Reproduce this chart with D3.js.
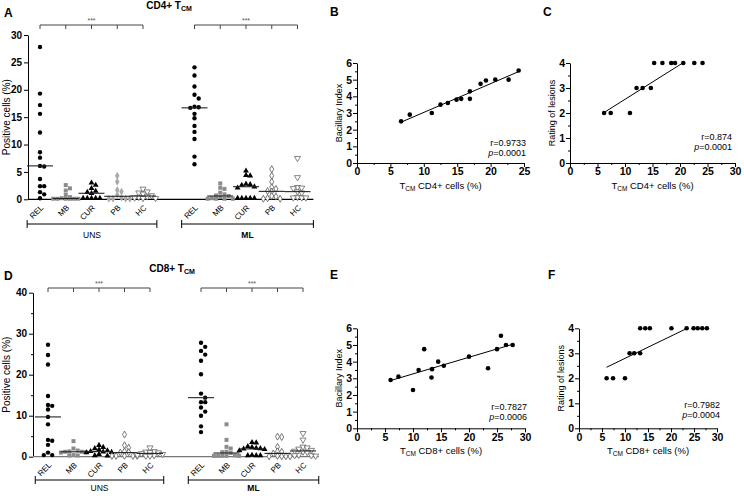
<!DOCTYPE html>
<html><head><meta charset="utf-8">
<script src="https://cdn.jsdelivr.net/npm/d3@7"></script>
<style>
body{margin:0;background:#fff;}
svg text{font-family:"Liberation Sans",Arial,Helvetica,sans-serif;}
</style></head><body>
<svg id="c" width="744" height="496"></svg>
<script>
// ---------- DATA ----------
const categories = ["REL","MB","CUR","PB","HC"];
const groups = ["UNS","ML"];

// CD4+ TCM, positive cells (%)
const cd4_UNS_REL = [27.8,19.3,17.2,15.6,12.2,8.6,7.6,6.1,6.0,3.7,2.4,2.4,1.3,0.9,0.2];
const cd4_UNS_MB  = [2.6,2.0,1.6,0.8,0.4,0.2,0.1,0.1,0.1,0.1,0.1,0.1];
const cd4_UNS_CUR = [3.0,2.6,2.0,1.5,1.3,1.1,0.2,0.2,0.2,0.2,0.2];
const cd4_UNS_PB  = [4.3,3.2,1.7,1.4,0.8,0.3,0.1,0.1,0.1,0.1];
const cd4_UNS_HC  = [1.9,1.4,1.2,1.0,0.7,0.5,0.4,0.3,0.2,0.2];
const cd4_ML_REL  = [24.1,22.6,20.6,19.1,18.4,16.9,16.8,16.7,15.6,14.8,13.4,12.3,11.0,7.8,6.4];
const cd4_ML_MB   = [2.9,2.1,1.9,1.2,0.9,0.7,0.6,0.4,0.2,0.1,0.1,0.1,0.1];
const cd4_ML_CUR  = [5.2,4.4,4.3,2.8,2.7,2.6,2.3,2.1,0.2,0.2,0.2,0.2,0.2];
const cd4_ML_PB   = [5.5,4.3,3.2,2.2,1.9,1.5,1.4,0.6,0.5,0.2,0.1,0.1];
const cd4_ML_HC   = [7.5,4.0,2.2,2.1,2.0,1.4,1.2,0.4,0.3,0.3,0.3];

// CD8+ TCM, positive cells (%)
const cd8_UNS_REL = [27.3,24.8,22.5,14.8,12.6,12.4,11.5,9.7,7.9,4.1,3.9,2.9,1.0,0.4,0.4];
const cd8_UNS_MB  = [3.8,2.0,1.5,1.3,1.2,1.2,1.1,1.0,0.4,0.3,0.3];
const cd8_UNS_CUR = [2.8,2.3,2.0,1.7,1.5,1.3,1.2,1.1,1.0,0.6,0.3,0.2];
const cd8_UNS_PB  = [5.4,2.8,2.2,1.3,1.1,1.0,0.2,0.2,0.2,0.2,0.2];
const cd8_UNS_HC  = [2.2,1.3,1.2,1.1,1.0,0.8,0.6,0.4,0.3,0.2,0.2];
const cd8_ML_REL  = [27.8,26.8,25.8,24.9,23.4,20.1,15.4,14.4,13.3,13.3,12.0,11.0,10.0,7.4,6.0];
const cd8_ML_MB   = [7.9,4.1,2.4,2.0,1.2,1.1,0.9,0.3,0.2,0.2,0.2,0.2,0.2];
const cd8_ML_CUR  = [3.5,3.4,2.5,2.3,2.1,2.0,1.9,1.8,1.5,0.4,0.3,0.3,0.3];
const cd8_ML_PB   = [4.9,4.8,2.4,1.3,1.2,0.8,0.2,0.1,0.1,0.1,0.1];
const cd8_ML_HC   = [5.7,4.1,2.4,2.2,1.9,1.6,1.4,1.2,1.1,0.4,0.3,0.3,0.2];

const yTicksA = [0,5,10,15,20,25,30];
const yTicksD = [0,10,20,30,40];

// Correlations (ML patients)
const bX = [6.6,7.9,11.2,12.5,13.6,14.9,15.6,16.9,16.9,18.5,19.3,20.7,22.7,24.2];
const bY = [2.5,2.9,3.0,3.5,3.6,3.8,3.85,4.3,3.85,4.75,4.95,5.0,5.0,5.55];
const cX = [6.2,7.4,10.9,12.1,13.2,14.7,15.3,16.8,18.4,19.1,20.6,22.6,24.1];
const cY = [2,2,2,3,3,3,4,4,4,4,4,4,4];
const eX = [6.0,7.4,10.0,11.0,12.0,13.3,13.4,14.5,15.5,20.0,23.4,25.0,25.7,26.6,27.8];
const eY = [2.9,3.1,2.3,3.5,4.75,3.05,3.55,4.0,3.75,4.3,3.6,4.75,5.55,5.0,5.0];
const fX = [6.0,7.4,10.0,11.0,12.0,13.3,13.3,14.4,15.4,20.1,23.4,24.9,25.8,26.8,27.8];
const fY = [2,2,2,3,3,3,4,4,4,4,4,4,4,4,4];
const statR = ["r=0.9733","r=0.874","r=0.7827","r=0.7982"];
const statP = ["=0.0001","=0.0001","=0.0006","=0.0004"];
const biTicks = [0,1,2,3,4,5,6];
const lesTicks = [0,1,2,3,4];
const x25Ticks = [0,5,10,15,20,25];
const x30Ticks = [0,5,10,15,20,25,30];

// ---------- DRAW ----------
const svg = d3.select('#c');

const styles = {
  REL:{type:d3.symbolCircle, size:15, fill:'#000', stroke:'none'},
  MB:{type:d3.symbolSquare, size:16, fill:'#8c8c8c', stroke:'none'},
  CUR:{type:d3.symbolTriangle, size:15, fill:'#000', stroke:'none'},
  PB:{type:d3.symbolDiamond, size:14, fill:'#fff', stroke:'#555'},
  PBlight:{type:d3.symbolDiamond, size:18, fill:'#aaa', stroke:'none'},
  HC:{type:d3.symbolTriangle, size:16, fill:'#fff', stroke:'#666', rot:180}
};

// column-scatter spreading: nearest free horizontal slot, capped width
function swarm(vals, y, step, minD, maxK){
  const pts = vals.map(v=>({v, py:y(v), dx:0}));
  const order = pts.slice().sort((a,b)=>a.py-b.py);
  const placed = [];
  for(const p of order){
    let best = null, bestD = -1;
    for(let k=0;k<=2*maxK;k++){
      const off = k===0?0:(k%2?1:-1)*Math.ceil(k/2)*step;
      const d = placed.length? d3.min(placed,q=>Math.hypot(q.dx-off,q.py-p.py)) : Infinity;
      if(d>=minD){best=off;break;}
      if(d>bestD+0.01){bestD=d;best=off;}
    }
    p.dx = best;
    placed.push(p);
  }
  return pts;
}

function styleAxis(ax, fs){
  ax.select('.domain').attr('stroke','#000').attr('stroke-width',1);
  ax.selectAll('.tick line').attr('stroke','#000');
  ax.selectAll('.tick text').attr('font-size',fs).attr('font-weight','bold').attr('fill','#000')
    .attr('font-family','"Liberation Sans",Arial,sans-serif');
}

function columnPanel(cfg){
  const g = svg.append('g');
  const slots = [];
  groups.forEach((gr,gi)=>{ categories.forEach(c=>slots.push(gr+'|'+c)); if(gi===0) slots.push('gap'); });
  const x = d3.scalePoint().domain(slots).range([cfg.xFirst,cfg.xLast]);
  const step = x.step();
  const y = d3.scaleLinear().domain([0,cfg.yMax]).range([cfg.yBase,cfg.yTop]);

  const ya = g.append('g').attr('transform',`translate(${cfg.axisX},0)`)
    .call(d3.axisLeft(y).tickValues(cfg.yTicks).tickSize(4).tickSizeOuter(0).tickPadding(2).tickFormat(d3.format('d')));
  styleAxis(ya, 10);
  if(cfg.yMinor){
    const ym = g.append('g').attr('transform',`translate(${cfg.axisX},0)`)
      .call(d3.axisLeft(y).tickValues(cfg.yMinor).tickSize(2).tickFormat(''));
    ym.select('.domain').remove(); ym.selectAll('line').attr('stroke','#000');
  }
  const xEndLine = x('ML|HC')+step/2+3;
  g.append('line').attr('x1',cfg.axisX).attr('x2',xEndLine).attr('y1',cfg.yBase).attr('y2',cfg.yBase)
    .attr('stroke',cfg.baseColor).attr('stroke-width',1.2);

  g.append('text').attr('transform',`translate(${cfg.ylabelX},${(cfg.yBase+cfg.yTop)/2}) rotate(-90)`)
    .attr('text-anchor','middle').attr('font-size',10).text('Positive cells (%)');

  const t = g.append('text').attr('x',cfg.titleX).attr('y',cfg.titleY).attr('text-anchor','middle')
    .attr('font-size',10).attr('font-weight','bold');
  t.append('tspan').text(cfg.titleMain+' T');
  t.append('tspan').attr('font-size',7).attr('dy',2).text('CM');
  g.append('text').attr('x',cfg.letterX).attr('y',cfg.letterY).attr('font-size',12).attr('font-weight','bold').text(cfg.letter);

  groups.forEach((gr,gi)=>{
    const xs = categories.map(c=>x(gr+'|'+c));
    g.append('line').attr('x1',xs[0]).attr('x2',xs[4]).attr('y1',cfg.sigY).attr('y2',cfg.sigY).attr('stroke','#444');
    xs.forEach(xx=>g.append('line').attr('x1',xx).attr('x2',xx).attr('y1',cfg.sigY).attr('y2',cfg.sigY+4).attr('stroke','#444'));
    g.append('text').attr('x',(xs[0]+xs[4])/2).attr('y',cfg.sigY-2).attr('text-anchor','middle')
      .attr('font-size',7).attr('fill','#555').text('***');
    const gx0 = xs[0]-step/2, gx1 = xs[4]+step/2+(gi?3:1);
    g.append('line').attr('x1',gx0).attr('x2',gx1).attr('y1',cfg.groupY).attr('y2',cfg.groupY).attr('stroke','#000');
    [gx0,gx1].forEach(xx=>g.append('line').attr('x1',xx).attr('x2',xx).attr('y1',cfg.groupY-4).attr('y2',cfg.groupY+4).attr('stroke','#000'));
    g.append('text').attr('x',(gx0+gx1)/2).attr('y',cfg.groupY+cfg.groupLabelDy).attr('text-anchor','middle')
      .attr('font-size',8.5).attr('font-weight',gi?'bold':'normal').text(gr);

    categories.forEach(c=>{
      const cx = x(gr+'|'+c);
      const vals = cfg.data[gr][c];
      let st = styles[c];
      if(c==='PB' && gr==='UNS' && cfg.pbLight) st = styles.PBlight;
      const pts = swarm(vals, y, 4.2, 4.2, 3);
      const sym = d3.symbol().type(st.type).size(st.size);
      g.selectAll(null).data(pts).enter().append('path')
        .attr('d',sym)
        .attr('transform',d=>`translate(${cx+d.dx},${d.py})`+(st.rot?` rotate(${st.rot})`:''))
        .attr('fill',st.fill).attr('stroke',st.stroke).attr('stroke-width',0.8);
      const med = d3.median(vals);
      g.append('line').attr('x1',cx-13).attr('x2',cx+13).attr('y1',y(med)).attr('y2',y(med))
        .attr('stroke','#222').attr('stroke-width',1.1);
      g.append('text').attr('transform',`translate(${cx+4},${cfg.yBase+9}) rotate(-45)`)
        .attr('text-anchor','end').attr('font-size',8).text(c);
    });
  });
}

columnPanel({
  letter:'A', letterX:4, letterY:17, titleMain:'CD4+', titleX:169, titleY:9,
  axisX:28, xFirst:40, xLast:297.5, yBase:199.3, yTop:35, yMax:30, yTicks:yTicksA,
  ylabelX:10, sigY:25, groupY:224, groupLabelDy:14, baseColor:'#000', pbLight:true,
  data:{UNS:{REL:cd4_UNS_REL,MB:cd4_UNS_MB,CUR:cd4_UNS_CUR,PB:cd4_UNS_PB,HC:cd4_UNS_HC},
        ML:{REL:cd4_ML_REL,MB:cd4_ML_MB,CUR:cd4_ML_CUR,PB:cd4_ML_PB,HC:cd4_ML_HC}}
});
columnPanel({
  letter:'D', letterX:4, letterY:280, titleMain:'CD8+', titleX:172, titleY:272,
  axisX:33, xFirst:48, xLast:303, yBase:456.7, yTop:292.7, yMax:40, yTicks:yTicksD, yMinor:[5,15,25,35],
  ylabelX:10, sigY:288, groupY:480, groupLabelDy:11, baseColor:'#777', pbLight:false,
  data:{UNS:{REL:cd8_UNS_REL,MB:cd8_UNS_MB,CUR:cd8_UNS_CUR,PB:cd8_UNS_PB,HC:cd8_UNS_HC},
        ML:{REL:cd8_ML_REL,MB:cd8_ML_MB,CUR:cd8_ML_CUR,PB:cd8_ML_PB,HC:cd8_ML_HC}}
});

function corrPanel(cfg){
  const g = svg.append('g');
  const x = d3.scaleLinear().domain([0,cfg.xMax]).range([cfg.x0,cfg.x1]);
  const y = d3.scaleLinear().domain([0,cfg.yMax]).range([cfg.y0,cfg.y1]);
  const xa = g.append('g').attr('transform',`translate(0,${cfg.y0})`)
    .call(d3.axisBottom(x).tickValues(cfg.xTicks).tickSize(4).tickSizeOuter(0).tickPadding(1).tickFormat(d3.format('d')));
  styleAxis(xa, 10.5);
  const xm = g.append('g').attr('transform',`translate(0,${cfg.y0})`)
    .call(d3.axisBottom(x).tickValues(cfg.xTicks.slice(0,-1).map(v=>v+2.5)).tickSize(2).tickFormat(''));
  xm.select('.domain').remove(); xm.selectAll('line').attr('stroke','#000');
  const ya = g.append('g').attr('transform',`translate(${cfg.x0},0)`)
    .call(d3.axisLeft(y).tickValues(cfg.yTicks).tickSize(4).tickSizeOuter(0).tickPadding(1).tickFormat(d3.format('d')));
  styleAxis(ya, 10.5);
  const ym = g.append('g').attr('transform',`translate(${cfg.x0},0)`)
    .call(d3.axisLeft(y).tickValues(cfg.yTicks.slice(0,-1).map(v=>v+0.5)).tickSize(2).tickFormat(''));
  ym.select('.domain').remove(); ym.selectAll('line').attr('stroke','#000');

  const mx = d3.mean(cfg.xs), my = d3.mean(cfg.ys);
  const sxy = d3.sum(cfg.xs,(v,i)=>(v-mx)*(cfg.ys[i]-my));
  const sxx = d3.sum(cfg.xs,v=>(v-mx)**2);
  const m = sxy/sxx, b = my-m*mx;
  let xa0 = d3.min(cfg.xs), xa1 = d3.max(cfg.xs);
  if(m*xa1+b>cfg.yMax) xa1 = (cfg.yMax-b)/m;
  g.append('line').attr('x1',x(xa0)).attr('y1',y(m*xa0+b)).attr('x2',x(xa1)).attr('y2',y(m*xa1+b))
    .attr('stroke','#000').attr('stroke-width',1);

  g.selectAll(null).data(cfg.xs).enter().append('circle')
    .attr('cx',d=>x(d)).attr('cy',(d,i)=>y(cfg.ys[i])).attr('r',2.3).attr('fill','#000');

  g.append('text').attr('x',cfg.letterX).attr('y',cfg.letterY).attr('font-size',12).attr('font-weight','bold').text(cfg.letter);
  g.append('text').attr('transform',`translate(${cfg.x0-15},${(cfg.y0+cfg.y1)/2}) rotate(-90)`)
    .attr('text-anchor','middle').attr('font-size',9).text(cfg.ylabel);
  const xl = g.append('text').attr('x',(cfg.x0+cfg.x1)/2).attr('y',cfg.y0+26).attr('text-anchor','middle').attr('font-size',9.5);
  xl.append('tspan').text('T');
  xl.append('tspan').attr('font-size',6.5).attr('dy',2).text('CM');
  xl.append('tspan').attr('dy',-2).text(' '+cfg.cell+' cells (%)');
  g.append('text').attr('x',cfg.statX).attr('y',cfg.statY).attr('text-anchor','end').attr('font-size',9).text(cfg.r);
  const pt = g.append('text').attr('x',cfg.statX).attr('y',cfg.statY+10).attr('text-anchor','end').attr('font-size',9);
  pt.append('tspan').attr('font-style','italic').text('p');
  pt.append('tspan').text(cfg.p);
}

corrPanel({letter:'B', letterX:330, letterY:16, x0:357, x1:524, y0:163, y1:63, xMax:25, yMax:6,
  xTicks:x25Ticks, yTicks:biTicks, xs:bX, ys:bY, ylabel:'Bacillary Index', cell:'CD4+',
  r:statR[0], p:statP[0], statX:526, statY:146});
corrPanel({letter:'C', letterX:543, letterY:16, x0:570, x1:735, y0:163, y1:63, xMax:30, yMax:4,
  xTicks:x30Ticks, yTicks:lesTicks, xs:cX, ys:cY, ylabel:'Rating of lesions', cell:'CD4+',
  r:statR[1], p:statP[1], statX:732, statY:140});
corrPanel({letter:'E', letterX:330, letterY:279, x0:357, x1:525, y0:428.3, y1:328.3, xMax:30, yMax:6,
  xTicks:x30Ticks, yTicks:biTicks, xs:eX, ys:eY, ylabel:'Bacillary Index', cell:'CD8+',
  r:statR[2], p:statP[2], statX:527, statY:410});
corrPanel({letter:'F', letterX:548, letterY:279, x0:579, x1:717, y0:428.3, y1:328.3, xMax:30, yMax:4,
  xTicks:x30Ticks, yTicks:lesTicks, xs:fX, ys:fY, ylabel:'Rating of lesions', cell:'CD8+',
  r:statR[3], p:statP[3], statX:720, statY:408});
</script>
</body></html>
